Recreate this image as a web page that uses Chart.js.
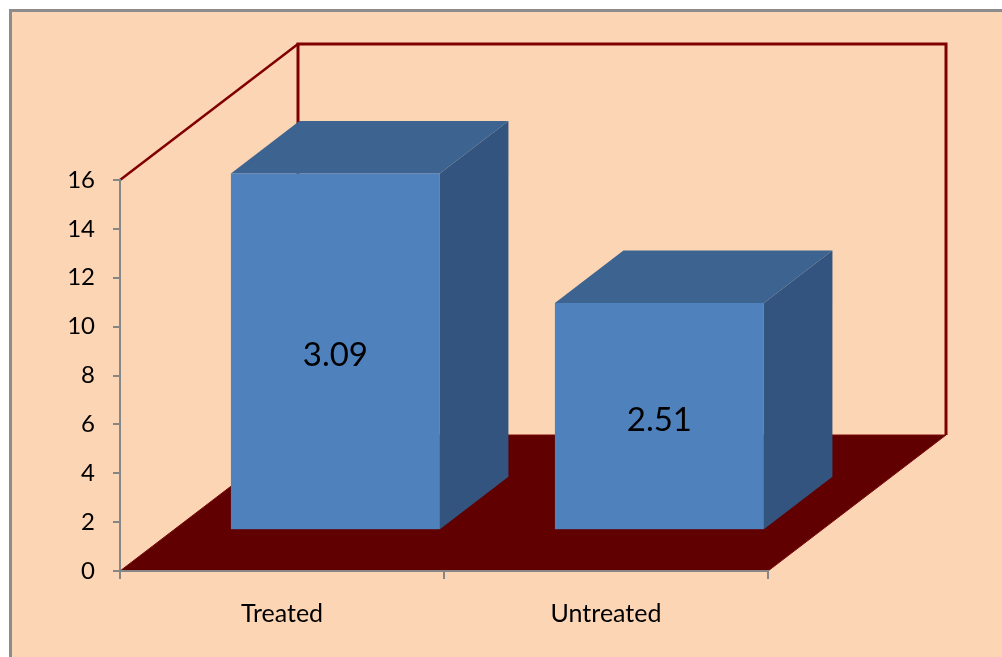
<!DOCTYPE html>
<html>
<head>
<meta charset="utf-8">
<script src="https://cdn.jsdelivr.net/npm/chart.js@4/dist/chart.umd.min.js"></script>
<style>
  html, body { margin: 0; padding: 0; background: #ffffff; }
  #c { display: block; }
</style>
</head>
<body>
<canvas id="c" width="1002" height="657"></canvas>
<script>
// Chart data
const categories = ['Treated', 'Untreated'];
const barHeights = [14.6, 9.3];
const barNotes = ['3.09', '2.51'];
const axisMin = 0;
const axisMax = 16;
const axisStep = 2;

// Oblique projection of the box: depth vector in pixels, and where each column sits along it
const DEPTH = { dx: 178, dy: -136 };
const COL_FRONT = 0.30;
const COL_BACK = 0.685;

const COLORS = {
  page: '#FCD5B5',
  frame: '#8C8C8C',
  wall: '#800000',
  floor: '#600000',
  floorEdge: '#7A0A0A',
  axis: '#868686',
  front: '#4F81BD',
  top: '#3D6390',
  side: '#32547F'
};

Chart.defaults.font.family = 'Lato, "Open Sans", sans-serif';
Chart.defaults.color = '#000000';

// Background, frame, walls and floor of the 3-D box, drawn before the axes
const box3d = {
  id: 'box3d',
  beforeDraw(chart) {
    const { ctx, scales: { x, y } } = chart;
    const W = chart.width, H = chart.height;
    ctx.save();
    ctx.fillStyle = '#ffffff';
    ctx.fillRect(0, 0, W, H);
    ctx.fillStyle = COLORS.page;
    ctx.fillRect(10, 10, W, H);
    ctx.strokeStyle = COLORS.frame;
    ctx.lineWidth = 3;
    ctx.strokeRect(10.5, 10.5, W + 20, H + 20);

    const x0 = x.left, x1 = x.right;
    const yb = y.getPixelForValue(axisMin);
    const yt = y.getPixelForValue(axisMax);
    const { dx, dy } = DEPTH;

    // back wall and side wall outlines
    ctx.strokeStyle = COLORS.wall;
    ctx.lineWidth = 3;
    ctx.lineJoin = 'miter';
    ctx.beginPath();
    ctx.moveTo(x0 + dx, yb + dy);
    ctx.lineTo(x0 + dx, yt + dy);
    ctx.lineTo(x1 + dx, yt + dy);
    ctx.lineTo(x1 + dx, yb + dy);
    ctx.stroke();
    ctx.lineWidth = 2.5;
    ctx.beginPath();
    ctx.moveTo(x0, yt);
    ctx.lineTo(x0 + dx, yt + dy);
    ctx.stroke();
    ctx.lineWidth = 1.5;
    ctx.beginPath();
    ctx.moveTo(x0, yb);
    ctx.lineTo(x0, yt);
    ctx.stroke();

    // floor
    ctx.fillStyle = COLORS.floor;
    ctx.strokeStyle = COLORS.floorEdge;
    ctx.lineWidth = 1;
    ctx.beginPath();
    ctx.moveTo(x0, yb);
    ctx.lineTo(x0 + dx, yb + dy);
    ctx.lineTo(x1 + dx, yb + dy);
    ctx.lineTo(x1, yb);
    ctx.closePath();
    ctx.fill();
    ctx.stroke();
    ctx.restore();
  },
  // Columns as cuboids built on the bar elements, plus their labels
  afterDatasetsDraw(chart) {
    const { ctx } = chart;
    const meta = chart.getDatasetMeta(0);
    const { dx, dy } = DEPTH;
    const fx = COL_FRONT * dx, fy = COL_FRONT * dy;
    const ddx = (COL_BACK - COL_FRONT) * dx, ddy = (COL_BACK - COL_FRONT) * dy;
    ctx.save();
    meta.data.forEach((el, i) => {
      const half = el.width / 2;
      const L = el.x - half + fx, R = el.x + half + fx;
      const T = el.y + fy, B = el.base + fy;
      // side face
      ctx.fillStyle = COLORS.side;
      ctx.beginPath();
      ctx.moveTo(R, T);
      ctx.lineTo(R + ddx, T + ddy);
      ctx.lineTo(R + ddx, B + ddy);
      ctx.lineTo(R, B);
      ctx.closePath();
      ctx.fill();
      // top face
      ctx.fillStyle = COLORS.top;
      ctx.beginPath();
      ctx.moveTo(L, T);
      ctx.lineTo(L + ddx, T + ddy);
      ctx.lineTo(R + ddx, T + ddy);
      ctx.lineTo(R, T);
      ctx.closePath();
      ctx.fill();
      // front face
      ctx.fillStyle = COLORS.front;
      ctx.fillRect(L, T, R - L, B - T);
      // label
      ctx.fillStyle = '#000000';
      ctx.font = '33px Lato, "Open Sans", sans-serif';
      ctx.textAlign = 'center';
      ctx.textBaseline = 'middle';
      ctx.fillText(barNotes[i], (L + R) / 2, (T + B) / 2 + 4);
    });
    ctx.restore();
  }
};

new Chart(document.getElementById('c'), {
  type: 'bar',
  data: {
    labels: categories,
    datasets: [{
      data: barHeights,
      backgroundColor: 'rgba(0,0,0,0)',
      borderWidth: 0,
      categoryPercentage: 1,
      barPercentage: 0.645
    }]
  },
  options: {
    responsive: false,
    animation: false,
    devicePixelRatio: 1,
    layout: { padding: { left: 0, right: 234, top: 180, bottom: 0 } },
    plugins: { legend: { display: false }, tooltip: { enabled: false } },
    scales: {
      x: {
        afterFit(scale) { scale.height = 86; },
        grid: { offset: true, drawOnChartArea: false, drawTicks: true, tickLength: 8, color: COLORS.axis, lineWidth: 2 },
        border: { display: true, color: COLORS.axis, width: 2 },
        ticks: { padding: 20, font: { size: 25 }, color: '#000000' }
      },
      y: {
        min: axisMin,
        max: axisMax,
        afterFit(scale) { scale.width = 120; },
        grid: { drawOnChartArea: false, drawTicks: true, tickLength: 7, color: COLORS.axis, lineWidth: 2 },
        border: { display: true, color: COLORS.axis, width: 2 },
        ticks: { stepSize: axisStep, padding: 18, font: { size: 24 }, color: '#000000' }
      }
    }
  },
  plugins: [box3d]
});
</script>
</body>
</html>
